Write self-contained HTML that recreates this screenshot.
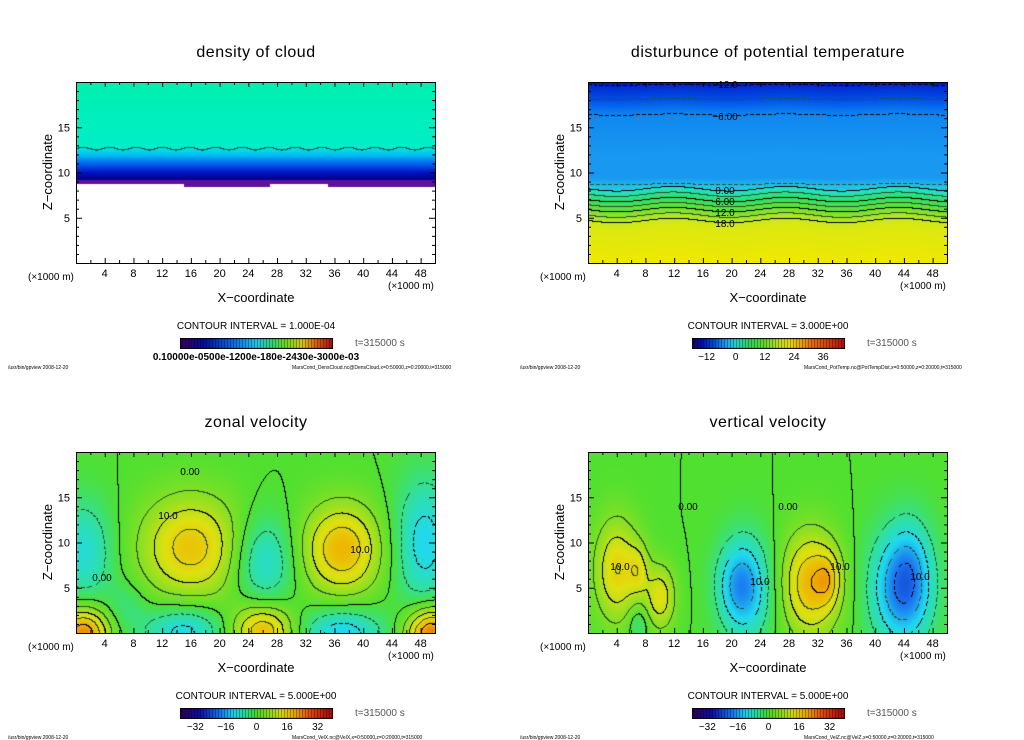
<!DOCTYPE html>
<html><head><meta charset="utf-8">
<style>
html,body{margin:0;padding:0;background:#fff;}
#root{position:relative;width:1024px;height:740px;overflow:hidden;font-family:"Liberation Sans","DejaVu Sans",sans-serif;}
canvas{position:absolute;}
svg{position:absolute;left:0;top:0;}
</style></head>
<body>
<div id="root">
<canvas id="c-tl" width="359" height="181" style="left:76px;top:82px"></canvas>
<canvas id="c-tr" width="359" height="181" style="left:588px;top:82px"></canvas>
<canvas id="c-bl" width="359" height="181" style="left:76px;top:452px"></canvas>
<canvas id="c-br" width="359" height="181" style="left:588px;top:452px"></canvas>
<canvas id="cb-tl" width="153" height="11" style="left:180px;top:338px"></canvas>
<canvas id="cb-tr" width="153" height="11" style="left:692px;top:338px"></canvas>
<canvas id="cb-bl" width="153" height="11" style="left:180px;top:708px"></canvas>
<canvas id="cb-br" width="153" height="11" style="left:692px;top:708px"></canvas>
<svg id="ov" width="1024" height="740"></svg>
</div>
<script>
// ---- data ----
const xTicks = [4,8,12,16,20,24,28,32,36,40,44,48];
const zTicks = [5,10,15];
// zonal velocity blobs: centre x (km), centre z (km), amplitude, sx, sz
const uX  = [16, 37, 26, 1, 48.5, 1, 26, 49.5, 15, 37, 7];
const uZ  = [9.5, 9.3, 8, 9, 10, 0, 0.3, 0, 0.3, 0, 3];
const uA  = [17, 19, -11, -10, -12, 24, 19, 26, -12, -13, -4];
const uSX = [5, 3.8, 3, 3, 3, 2.5, 3, 2.5, 4, 4, 2];
const uSZ = [4, 3.5, 3.5, 4, 5, 2, 2, 2, 2, 2, 2];
// vertical velocity blobs
const wX  = [4, 10, 7, 31, 33.5, 22, 20.5, 43.5, 45, 7];
const wZ  = [7, 4, 7, 5.5, 6, 5, 5.5, 5, 7, 1];
const wA  = [15, 13, 8, 19, 8, -14, -6, -18, -6, -6];
const wSX = [2.2, 1.5, 1, 2.8, 1.2, 2.5, 2, 3, 2, 1];
const wSZ = [4, 2.5, 2, 4, 2, 4, 3, 4.5, 4, 1.5];
// potential temperature vertical profile
const tZ = [0, 4, 4.7, 5.9, 7, 8.2, 8.7, 9.5, 12, 16.4, 18.1, 19.7, 20];
const tV = [22, 20, 18, 12, 6, 0, -3, -5, -5, -6, -9, -12, -14];
const uBarLabels = [-32,-16,0,16,32];
const tBarLabels = [-12,0,12,24,36];

// ---- colour maps ----
function hex(h){return [parseInt(h.substr(1,2),16),parseInt(h.substr(3,2),16),parseInt(h.substr(5,2),16)];}
function interp(stops, v){
  if(v<=stops[0][0]) return hex(stops[0][1]);
  for(let i=1;i<stops.length;i++){
    if(v<=stops[i][0]){
      const a=stops[i-1],b=stops[i],t=(v-a[0])/(b[0]-a[0]);
      const ca=hex(a[1]),cb=hex(b[1]);
      return [0,1,2].map(k=>Math.round(ca[k]+(cb[k]-ca[k])*t));
    }
  }
  return hex(stops[stops.length-1][1]);
}
const velStops=[[-40,'#300060'],[-30,'#1010a0'],[-20,'#1a70f0'],[-12,'#20d8f0'],[-6,'#30e0a0'],[0,'#50e030'],[7,'#98e020'],[13,'#e0e010'],[20,'#f0b000'],[28,'#e85010'],[38,'#b01010']];
const tmpStops=[[-18,'#200060'],[-14,'#0010c0'],[-9,'#0050e8'],[-6,'#1088f0'],[-5,'#1898f0'],[-3,'#20b8f0'],[0,'#20e0d0'],[6,'#30e060'],[12,'#70e030'],[18,'#c8e820'],[22,'#f0e800'],[32,'#f07010'],[45,'#c01010']];
const denStops=[[0,'#400060'],[0.15,'#0010a0'],[0.35,'#1070f0'],[0.5,'#20d0f0'],[0.6,'#30e080'],[0.7,'#80e020'],[0.8,'#e0d010'],[0.9,'#e06010'],[1,'#b01010']];

const W=359,H=181;
function kmX(x){return x/50*W;}
function kmZ(z){return H - z/20*H;}
function field(xs,zs,as,sxs,szs,x,z){
  let s=0;
  for(let i=0;i<xs.length;i++){
    const dx=(x-xs[i])/sxs[i], dz=(z-zs[i])/szs[i];
    s+=as[i]*Math.exp(-0.5*(dx*dx+dz*dz));
  }
  return s;
}
function drawField(id, f, stops, levels, thick){
  const c=document.getElementById(id),ctx=c.getContext('2d');
  const img=ctx.createImageData(W,H);
  const vals=new Float32Array(W*H);
  for(let j=0;j<H;j++)for(let i=0;i<W;i++){
    vals[j*W+i]=f(i/W*50,(H-j)/H*20);
  }
  for(let j=0;j<H;j++)for(let i=0;i<W;i++){
    const v=vals[j*W+i];let col=interp(stops,v);
    const a=v, r=i<W-1?vals[j*W+i+1]:a, d=j<H-1?vals[(j+1)*W+i]:a;
    for(const L of levels){
      if((a-L)*(r-L)<0||(a-L)*(d-L)<0){
        if(L<0 && ((i+j)%6)<2) continue;
        col = thick.includes(L)?[0,0,0]:[40,80,40];
        break;
      }
    }
    const p=(j*W+i)*4;img.data[p]=col[0];img.data[p+1]=col[1];img.data[p+2]=col[2];img.data[p+3]=255;
  }
  ctx.putImageData(img,0,0);
}
const velLevels=[-20,-15,-10,-5,0,5,10,15,20,25];
drawField('c-bl',(x,z)=>field(uX,uZ,uA,uSX,uSZ,x,z),velStops,velLevels,[0,10,-10,20,-20]);
drawField('c-br',(x,z)=>field(wX,wZ,wA,wSX,wSZ,x,z),velStops,velLevels,[0,10,-10,20,-20]);
function tempAt(z){
  for(let i=1;i<tZ.length;i++) if(z<=tZ[i]){const t=(z-tZ[i-1])/(tZ[i]-tZ[i-1]);return tV[i-1]+(tV[i]-tV[i-1])*t;}
  return tV[tV.length-1];
}
drawField('c-tr',(x,z)=>tempAt(z+0.25*Math.sin(x*0.4)*(z<8.5?1:0.3)),tmpStops,[-12,-9,-6,-3,0,3,6,9,12,15,18],[-12,-6,0,6,12,18]);
// density
(function(){
  const c=document.getElementById('c-tl'),ctx=c.getContext('2d');
  const img=ctx.createImageData(W,H);
  for(let j=0;j<H;j++)for(let i=0;i<W;i++){
    const x=i/W*50,z=(H-j)/H*20;
    let col;
    const bottom=(x>15&&x<27)||(x>35&&x<50)?8.4:8.8;
    const cl=12.7+0.15*Math.sin(x*1.7);
    if(z<bottom) col=[255,255,255];
    else if(z<9.2) col=[96,16,160];
    else if(z<cl) col=interp([[9.2,'#000080'],[10,'#0010c0'],[11,'#0060f0'],[12,'#00c0f0'],[12.8,'#00e8e0']],z);
    else col=interp([[12.7,'#00eec8'],[20,'#00f0b0']],z);
    if(Math.abs(z-cl)<0.07) col=[30,80,80];
    const p=(j*W+i)*4;img.data[p]=col[0];img.data[p+1]=col[1];img.data[p+2]=col[2];img.data[p+3]=255;
  }
  ctx.putImageData(img,0,0);
})();
function bar(id,f){
  const c=document.getElementById(id),ctx=c.getContext('2d');
  for(let i=0;i<153;i++){const col=f(i/152);ctx.fillStyle='rgb('+col.join(',')+')';ctx.fillRect(i,0,1,11);
    if(i%3==2){ctx.fillStyle='rgba(0,0,0,0.45)';ctx.fillRect(i,0,1,11);} }
  ctx.strokeStyle='#000';ctx.strokeRect(0.5,0.5,152,10);
}
bar('cb-tl',t=>interp(denStops,t));
bar('cb-tr',t=>interp(tmpStops,-18+t*63));
bar('cb-bl',t=>interp(velStops,-40+t*80));
bar('cb-br',t=>interp(velStops,-40+t*80));

// ---- overlay ----
const NS='http://www.w3.org/2000/svg',ov=document.getElementById('ov');
function el(tag,attrs,txt){const e=document.createElementNS(NS,tag);for(const k in attrs)e.setAttribute(k,attrs[k]);if(txt!==undefined)e.textContent=txt;ov.appendChild(e);return e;}
const panels=[
 {x:76,y:82,title:'density of cloud',ci:'CONTOUR INTERVAL = 1.000E-04',foot:'MarsCond_DensCloud.nc@DensCloud,x=0:50000,z=0:20000,t=315000',key:'density'},
 {x:588,y:82,title:'disturbunce of potential temperature',ci:'CONTOUR INTERVAL = 3.000E+00',foot:'MarsCond_PotTemp.nc@PotTempDist,x=0:50000,z=0:20000,t=315000',key:'temperature'},
 {x:76,y:452,title:'zonal velocity',ci:'CONTOUR INTERVAL = 5.000E+00',foot:'MarsCond_VelX.nc@VelX,x=0:50000,z=0:20000,t=315000',key:'zonal'},
 {x:588,y:452,title:'vertical velocity',ci:'CONTOUR INTERVAL = 5.000E+00',foot:'MarsCond_VelZ.nc@VelZ,x=0:50000,z=0:20000,t=315000',key:'vertical'}
];
panels.forEach(p=>{
  const X=p.x,Y=p.y,cx=X+180;
  let e;
  e=el('rect',{x:X+0.5,y:Y+0.5,width:W,height:H,fill:'none',stroke:'#000','stroke-width':1});
  
  
  for(let k=1;k<50;k++){
    const px=X+kmX(k)+0.5,len=k%4==0?5:3;
    if(k%2&&k%4) continue;
    el('line',{x1:px,y1:Y+H,x2:px,y2:Y+H-len,stroke:'#000'});
    el('line',{x1:px,y1:Y,x2:px,y2:Y+len,stroke:'#000'});
  }
  for(let k=1;k<20;k++){
    const py=Y+kmZ(k)+0.5,len=k%5==0?6:3;
    el('line',{x1:X,y1:py,x2:X+len,y2:py,stroke:'#000'});
    el('line',{x1:X+W,y1:py,x2:X+W-len,y2:py,stroke:'#000'});
  }
  xTicks.forEach(t=>{e=el('text',{x:X+kmX(t),y:Y+H+14,'font-size':11,'text-anchor':'middle'},t);
    
    });
  zTicks.forEach(t=>{e=el('text',{x:X-6,y:Y+kmZ(t)+4,'font-size':11,'text-anchor':'end'},t);
    
    });
  e=el('text',{x:0,y:0,'font-size':13,'text-anchor':'middle',transform:'translate('+(X-24)+','+(Y+90)+') rotate(-90)'},'Z\u2212coordinate');
  
  
  e=el('text',{x:cx,y:Y-25,'font-size':16,'text-anchor':'middle','letter-spacing':'0.5'},p.title);
  
  
  e=el('text',{x:cx,y:Y+H+39,'font-size':13,'text-anchor':'middle'},'X\u2212coordinate');
  
  
  el('text',{x:X-48,y:Y+H+17,'font-size':10},'(\u00d71000 m)');
  el('text',{x:X+312,y:Y+H+26,'font-size':10},'(\u00d71000 m)');
  e=el('text',{x:cx,y:Y+247,'font-size':10,'text-anchor':'middle'},p.ci);
  
  
  el('text',{x:X+279,y:Y+264,'font-size':10,fill:'#555'},'t=315000 s');
  el('text',{x:X-68,y:Y+287,'font-size':5},'/usr/bin/gpview   2008-12-20');
  el('text',{x:X+216,y:Y+287,'font-size':5},p.foot);
});
// colorbar labels
el('text',{x:256,y:360,'font-size':10,'text-anchor':'middle','font-weight':'bold'},'0.10000e-0500e-1200e-180e-2430e-3000e-03');
uBarLabels.forEach(v=>{
  [180,692].forEach(bx=>{el('text',{x:bx+(v+40)/80*153,y:730,'font-size':10,'text-anchor':'middle'},v<0?'\u2212'+(-v):v);});
});
tBarLabels.forEach(v=>{el('text',{x:692+(v+18)/63*153,y:360,'font-size':10,'text-anchor':'middle'},v<0?'\u2212'+(-v):v);});
// temperature contour labels
[['\u221212.0',84],['\u22126.00',116],['0.00',190],['6.00',201],['12.0',212],['18.0',223]].forEach(a=>{
  el('text',{x:725,y:a[1]+4,'font-size':10,'text-anchor':'middle'},a[0]);
});
// velocity contour labels
[[190,475,'0.00'],[168,519,'10.0'],[102,581,'0.00'],[360,553,'10.0'],[620,570,'10.0'],[760,585,'10.0'],[840,570,'10.0'],[920,580,'10.0'],[688,510,'0.00'],[788,510,'0.00']].forEach(a=>{
  el('text',{x:a[0],y:a[1],'font-size':10,'text-anchor':'middle'},a[2]);
});
</script>
</body></html>
